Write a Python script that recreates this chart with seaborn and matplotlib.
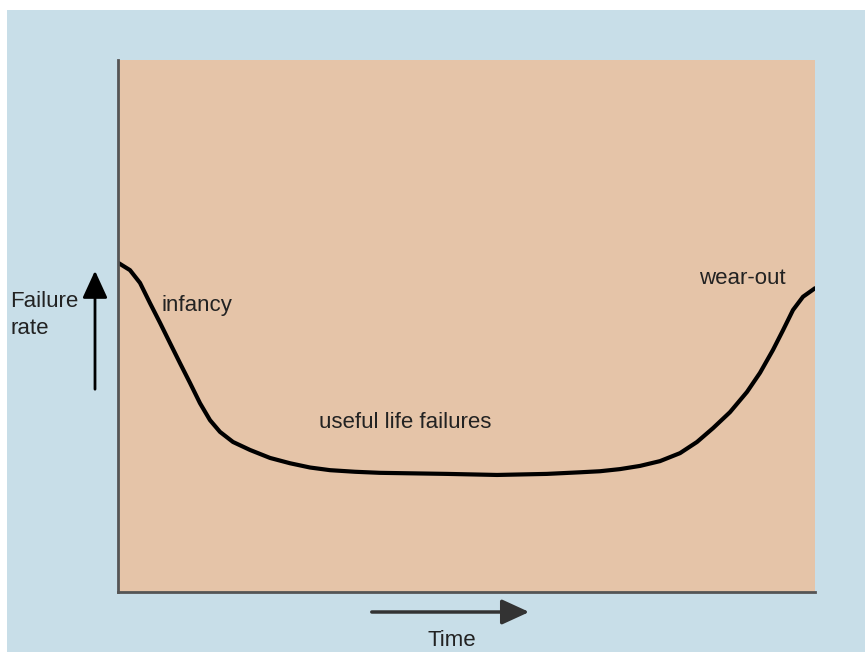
import numpy as np
import pandas as pd
import matplotlib
matplotlib.use('Agg')
import matplotlib.pyplot as plt
from matplotlib.patches import FancyArrowPatch, Rectangle
import seaborn as sns

# bathtub curve (time and failure rate in % of axis)
time = [0, 1.72, 3.16, 4.59, 6.03, 7.46, 8.90, 10.33, 11.76, 13.20, 14.63,
        16.50, 18.94, 21.81, 24.68, 27.55, 30.42, 34.0, 37.59, 47.20, 54.38, 61.55,
        66.28, 69.15, 72.02, 74.89, 77.76, 80.63, 83.07, 85.37, 87.80, 90.24,
        92.11, 93.97, 95.41, 96.84, 98.28, 100]
rate = [61.9, 60.5, 58.1, 54.3, 50.6, 46.8, 43.0, 39.3, 35.5, 32.3, 30.1,
        28.2, 26.7, 25.2, 24.2, 23.4, 22.9, 22.6, 22.4, 22.2, 22.0, 22.2,
        22.5, 22.7, 23.1, 23.7, 24.6, 26.1, 28.2, 30.8, 33.8, 37.6,
        41.2, 45.5, 49.2, 53.0, 55.5, 57.1]
labels = ['infancy', 'useful life failures', 'wear-out']
label_x = [6.3, 28.9, 83.4]
label_y = [53.8, 31.8, 59.0]

df = pd.DataFrame({'time': time, 'rate': rate})

sns.set_style('white')
plt.rcParams['font.family'] = ['Liberation Sans', 'DejaVu Sans']
fs = 16

fig = plt.figure(figsize=(8.65, 6.52), dpi=100, facecolor='white')
# light blue panel behind everything
fig.patches.append(Rectangle((7 / 865, 0), 1, 642 / 652, transform=fig.transFigure,
                             facecolor='#c8dee8', edgecolor='none', zorder=-5))

ax = fig.add_axes([118 / 865, 60 / 652, 697 / 865, 532 / 652])
ax.set_facecolor('#e5c4a8')
sns.lineplot(data=df, x='time', y='rate', ax=ax, color='black', linewidth=3)
ax.lines[0].set_solid_capstyle('round')
ax.lines[0].set_solid_joinstyle('round')

ax.set_xlim(0, 100)
ax.set_ylim(0, 100)
ax.set_xticks([])
ax.set_yticks([])
ax.set_xlabel('')
ax.set_ylabel('')
for s in ['top', 'right']:
    ax.spines[s].set_visible(False)
for s in ['left', 'bottom']:
    ax.spines[s].set_color('#555555')
    ax.spines[s].set_linewidth(2)

for t, x, y in zip(labels, label_x, label_y):
    ax.text(x, y, t, fontsize=fs, color='#222222', va='center', ha='left')

# axis hint arrows outside the plot
fig.text(10 / 865, 1 - 315 / 652, 'Failure\nrate', fontsize=fs, color='#222222',
         va='center', ha='left', linespacing=1.4)
fig.add_artist(FancyArrowPatch(
    (95 / 865, 1 - 392 / 652), (95 / 865, 1 - 268 / 652), transform=fig.transFigure,
    arrowstyle='-|>,head_length=1.2,head_width=0.55', mutation_scale=14,
    color='black', linewidth=2))
fig.add_artist(FancyArrowPatch(
    (369 / 865, 1 - 612 / 652), (532 / 865, 1 - 612 / 652), transform=fig.transFigure,
    arrowstyle='-|>,head_length=1.2,head_width=0.55', mutation_scale=14,
    color='#333333', linewidth=2.5))
fig.text(452 / 865, 1 - 641 / 652, 'Time', fontsize=fs, color='#222222',
         va='center', ha='center')

fig.savefig('out.png', dpi=100, facecolor=fig.get_facecolor())
